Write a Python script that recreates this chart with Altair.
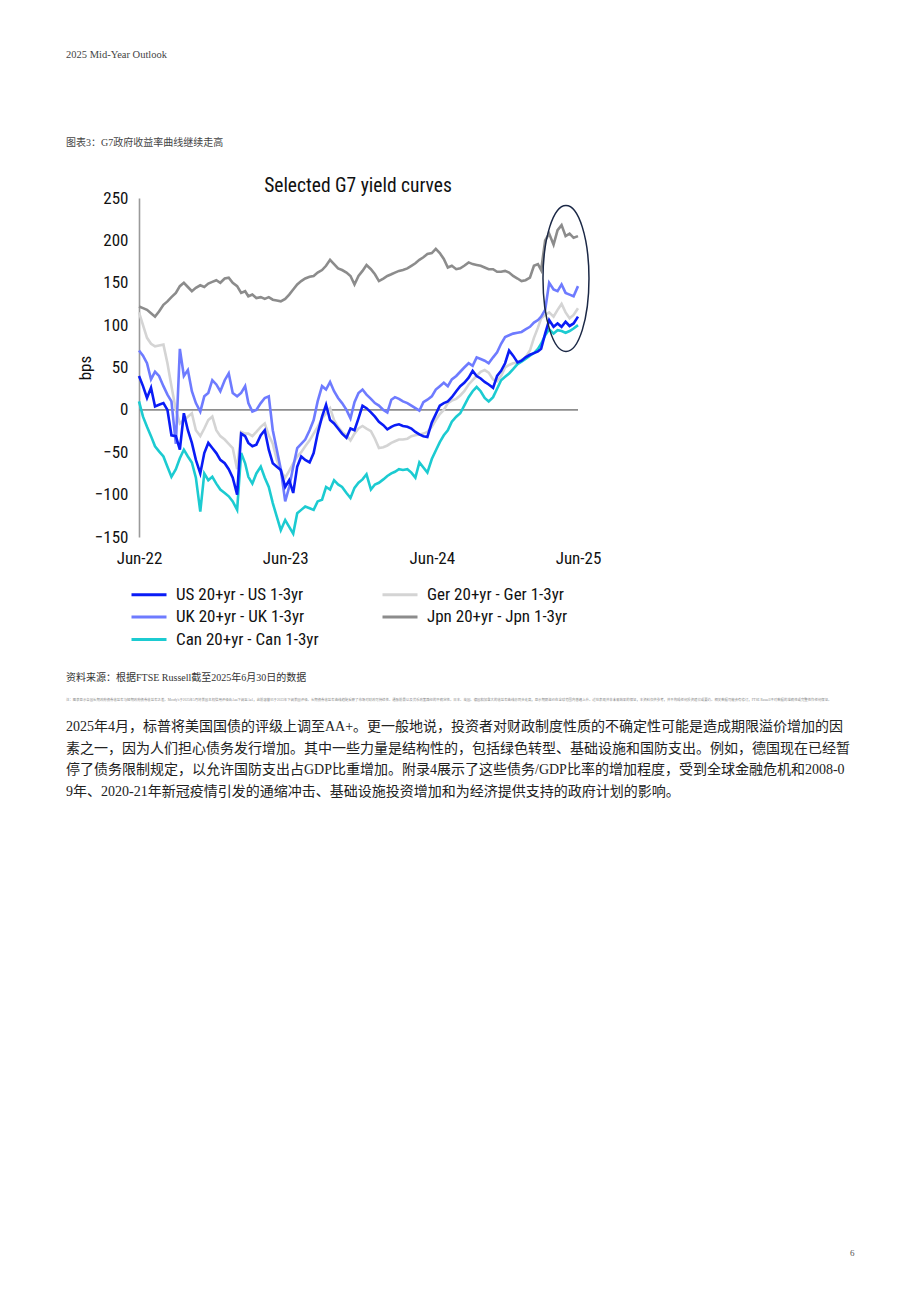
import altair as alt
import pandas as pd

# ---------------- data ----------------
# observation dates: 1st, 11th and 21st of each month, Jun-2022 .. May-2025, plus 1 Jun 2025
dates = []
for i in range(36):
    yr = 2022 + (5 + i) // 12
    mo = (5 + i) % 12 + 1
    for d in (1, 11, 21):
        dates.append(f"{yr}-{mo:02d}-{d:02d}")
dates.append("2025-06-01")

US = "US 20+yr - US 1-3yr"
GER = "Ger 20+yr - Ger 1-3yr"
UK = "UK 20+yr - UK 1-3yr"
JPN = "Jpn 20+yr - Jpn 1-3yr"
CAN = "Can 20+yr - Can 1-3yr"

jpn_vals = [122, 120, 118, 114, 110, 116, 124, 128, 133, 138, 146, 150,
            145, 140, 144, 147, 145, 149, 151, 153, 150, 155, 156, 150,
            146, 138, 140, 134, 136, 132, 133, 131, 133, 130, 129, 128,
            131, 136, 142, 148, 152, 155, 157, 158, 162, 165, 170, 177,
            172, 167, 165, 162, 158, 148, 158, 164, 171, 166, 160, 152,
            155, 158, 160, 162, 164, 165, 167, 170, 173, 177, 180, 184,
            185, 190, 185, 178, 168, 170, 166, 167, 170, 174, 172, 171,
            170, 168, 166, 166, 163, 163, 164, 162, 158, 155, 152, 153,
            156, 170, 172, 165, 200, 208, 195, 212, 218, 205, 208, 203,
            205]

ger_vals = [115, 100, 85, 78, 75, 76, 77, 55, 28, 0, -16, -12,
            -8, -4, -24, -31, -22, -12, -8, -24, -31, -35, -40, -45,
            -70, -26, -28, -28, -31, -26, -20, -16, -30, -40, -59, -72,
            -80, -72, -63, -55, -50, -43, -36, -28, -20, -10, -4, 2,
            -12, -20, -26, -30, -36, -28, -22, -19, -22, -25, -34, -45,
            -44, -42, -39, -37, -35, -35, -34, -31, -30, -29, -28, -26,
            -20, -12, -5, 0, 8, 11, 13, 17, 22, 30, 35, 40,
            45, 47, 44, 36, 34, 40, 50, 53, 55, 56, 59, 62,
            70, 85, 97, 108, 112, 115, 110, 118, 125, 115, 108, 112,
            120]

uk_vals = [70, 64, 55, 36, 45, 40, 28, 18, 10, -40, 72, 40,
           47, 22, 8, -2, 16, 20, 35, 30, 22, 35, 43, 20,
           16, 20, 28, 8, -2, 0, 8, 14, 16, -24, -47, -70,
           -108, -91, -67, -45, -40, -35, -24, -12, 10, 28, 24, 33,
           22, 14, 8, 0, -10, 9, 20, 24, 18, 13, 8, 5,
           0, -3, 12, 15, 13, 10, 8, 5, 2, -1, 9, 12,
           16, 24, 28, 32, 28, 36, 40, 45, 50, 55, 52, 62,
           60, 58, 55, 62, 68, 78, 86, 88, 90, 91, 92, 95,
           98, 103, 106, 110, 118, 150, 142, 140, 148, 138, 136, 134,
           146]

us_vals = [40, 28, 14, 26, 4, 6, 8, 0, -30, -31, -47, -4,
           -24, -39, -59, -75, -51, -39, -45, -51, -59, -63, -70, -80,
           -100, -28, -31, -39, -43, -41, -30, -24, -47, -63, -67, -71,
           -91, -83, -98, -67, -55, -59, -62, -51, -28, -8, 6, -12,
           -16, -22, -28, -33, -22, -24, -10, 5, 2, -3, -8, -14,
           -18, -23, -20, -18, -17, -19, -20, -22, -26, -29, -31, -32,
           -15, -5, 5, 8, 10, 15, 22, 28, 32, 38, 46, 40,
           37, 33, 30, 26, 40, 46, 55, 70, 64, 56, 58, 62,
           65, 67, 69, 72, 90, 106, 98, 102, 98, 104, 99, 102,
           110]

can_vals = [10, -8, -20, -31, -43, -49, -55, -67, -79, -70, -57, -47,
            -55, -62, -80, -120, -75, -83, -79, -87, -94, -98, -102, -108,
            -118, -51, -63, -79, -87, -75, -67, -80, -91, -110, -126, -142,
            -130, -138, -146, -122, -118, -114, -116, -118, -108, -106, -91, -94,
            -83, -88, -91, -98, -104, -92, -86, -82, -76, -94, -88, -86,
            -82, -78, -75, -73, -70, -71, -70, -74, -80, -62, -68, -74,
            -58, -48, -38, -30, -24, -14, -8, -4, 5, 15, 22, 27,
            22, 14, 10, 15, 25, 35, 39, 43, 48, 54, 57, 60,
            64, 67, 72, 78, 88, 95, 90, 94, 93, 91, 93, 96,
            100]

# legend fills column by column: first column US, UK, Can; second column Ger, Jpn
legend_order = [US, UK, CAN, GER, JPN]
series_colors = ["#0a1cf6", "#6e7bff", "#1ccbd1", "#d4d4d4", "#8c8c8c"]
draw_order = [(JPN, jpn_vals), (GER, ger_vals), (CAN, can_vals), (UK, uk_vals), (US, us_vals)]

y_ticks = [-150, -100, -50, 0, 50, 100, 150, 200, 250]
x_tick_years = [2022, 2023, 2024, 2025]

chart_title = "Selected G7 yield curves"
header = "2025 Mid-Year Outlook"
caption = "图表3：G7政府收益率曲线继续走高"
source = "资料来源：根据FTSE Russell截至2025年6月30日的数据"
footnote = ("注：图表显示各国长期政府债券收益率与短期政府债券收益率之差。Moody's于2025年5月将美国主权信用评级由Aaa下调至Aa1，"
            "此前惠誉已于2023年下调美国评级。长期债券收益率曲线趋陡反映了市场对财政可持续性、通胀前景以及货币政策路径的不确定性。"
            "日本、英国、德国和加拿大的收益率曲线亦同步走高，显示期限溢价在全球范围内普遍上升。过往表现并非未来结果的保证，"
            "本资料仅供参考，并不构成任何投资建议或要约。相关数据可能会有修订，FTSE Russell不对数据的准确性或完整性作任何保证。")
paragraph = [
    "2025年4月，标普将美国国债的评级上调至AA+。更一般地说，投资者对财政制度性质的不确定性可能是造成期限溢价增加的因",
    "素之一，因为人们担心债务发行增加。其中一些力量是结构性的，包括绿色转型、基础设施和国防支出。例如，德国现在已经暂",
    "停了债务限制规定，以允许国防支出占GDP比重增加。附录4展示了这些债务/GDP比率的增加程度，受到全球金融危机和2008-0",
    "9年、2020-21年新冠疫情引发的通缩冲击、基础设施投资增加和为经济提供支持的政府计划的影响。",
]
page_no = "6"

for _, v in draw_order:
    assert len(v) == len(dates)

rows = []
for name, vals in draw_order:
    for d, v in zip(dates, vals):
        rows.append({"date": d, "series": name, "bps": v})
df = pd.DataFrame(rows)

# ---------------- styles ----------------
NARROW = "Liberation Sans Narrow, Arial Narrow, Roboto Condensed, Liberation Sans, sans-serif"
SERIF = "Liberation Serif, Noto Sans CJK SC, serif"
OX, OY = 139, 198  # page position of plot origin

x_scale = alt.Scale(type="utc",
                    domain=[alt.DateTime(year=2022, month=6, date=1, utc=True),
                            alt.DateTime(year=2025, month=6, date=1, utc=True)])
y_scale = alt.Scale(domain=[-150, 250], nice=False, zero=False)

x_axis = alt.Axis(values=[alt.DateTime(year=y, month=6, date=1, utc=True) for y in x_tick_years],
                  labelExpr="utcFormat(datum.value, '%b-%y')",
                  domain=False, ticks=False, grid=False, labelFont=NARROW, labelFontSize=17,
                  labelColor="#111111", labelPadding=13, title=None, labelFlush=False)
y_axis = alt.Axis(values=y_ticks, domain=True, domainColor="#9a9a9a", domainWidth=1.6,
                  ticks=False, grid=False, labelFont=NARROW, labelFontSize=17, labelColor="#111111",
                  labelPadding=11, title="bps", titleFont=NARROW, titleFontSize=17,
                  titleFontWeight="normal", titleColor="#111111", titlePadding=0)

lines = alt.Chart(df).mark_line(strokeWidth=2.6, interpolate="linear").encode(
    x=alt.X("date:T", scale=x_scale, axis=x_axis),
    y=alt.Y("bps:Q", scale=y_scale, axis=y_axis),
    color=alt.Color("series:N", scale=alt.Scale(domain=legend_order, range=series_colors),
                    legend=alt.Legend(title=None, orient="none", legendX=137.5 - OX, legendY=583 - OY,
                                      columns=2, columnPadding=57, rowPadding=2.5, padding=0,
                                      symbolType="M-1.75,0H1.75", symbolSize=400, symbolStrokeWidth=3,
                                      labelFont=NARROW, labelFontSize=17, labelColor="#111111",
                                      labelOffset=15.5)),
    detail="series:N",
)

zero_df = pd.DataFrame({"start": [dates[0]], "end": [dates[-1]], "v": [0]})
zero_line = alt.Chart(zero_df).mark_rule(color="#8e8e8e", strokeWidth=1.6).encode(
    x="start:T", x2="end", y="v:Q")

ell_df = pd.DataFrame({"date": ["2025-05-02"], "v": [155]})
ellipse = alt.Chart(ell_df).mark_point(
    shape="M0,-1 A0.315,1 0 1,1 0,1 A0.315,1 0 1,1 0,-1 Z",
    size=21316, filled=False, stroke="#1b2846", strokeWidth=1.5, opacity=1).encode(
    x="date:T", y="v:Q")


def txt(text, px, py, size, font, color, align="left", weight="normal"):
    return alt.Chart(pd.DataFrame({"t": [text]})).mark_text(
        align=align, baseline="middle", font=font, fontSize=size, color=color, fontWeight=weight
    ).encode(x=alt.value(px - OX), y=alt.value(py - OY), text="t:N")


texts = [
    txt(header, 66, 55, 10.5, SERIF, "#444444"),
    txt(caption, 66, 143, 10, SERIF, "#444444"),
    txt(chart_title, 358, 186, 19.5, NARROW, "#111111", align="center"),
    txt(source, 66, 678, 10, SERIF, "#333333"),
    txt(footnote, 66, 700, 3.4, SERIF, "#888888"),
    txt(page_no, 850, 1253, 9, SERIF, "#555555"),
]
for i, line in enumerate(paragraph):
    texts.append(txt(line, 66, 727 + i * 21.6, 14, SERIF, "#222222"))

chart = alt.layer(zero_line, lines, ellipse, *texts).properties(
    width=439, height=339,
    padding={"left": OX, "top": OY, "right": 920 - OX - 439, "bottom": 1302 - OY - 339},
    autosize="none", background="white",
).configure_view(strokeWidth=0)

chart.save("out.html", embed_options={"renderer": "svg", "actions": False})
